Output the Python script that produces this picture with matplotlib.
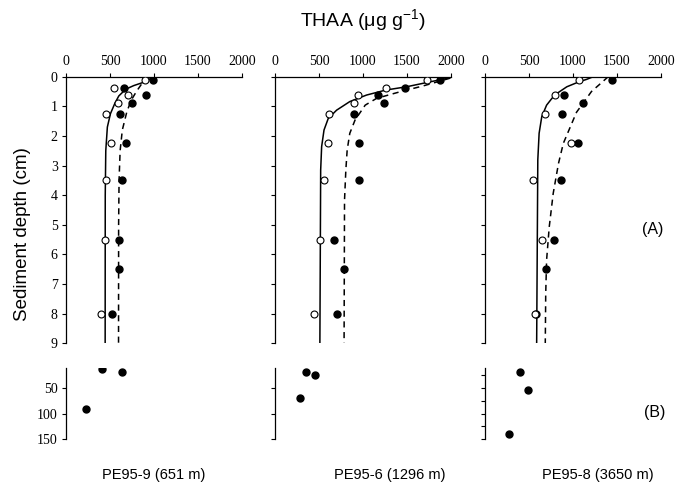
import numpy as np
import matplotlib.pyplot as plt

plt.rcParams['font.family'] = 'Liberation Serif'
plt.rcParams['mathtext.fontset'] = 'custom'
plt.rcParams['mathtext.rm'] = 'Liberation Sans'
plt.rcParams['mathtext.default'] = 'rm'

stations = ['PE95-9 (651 m)', 'PE95-6 (1296 m)', 'PE95-8 (3650 m)']

# (A) open circles
open_depth = [
    [0.125, 0.375, 0.625, 0.875, 1.25, 2.25, 3.5, 5.5, 8.0],
    [0.125, 0.375, 0.625, 0.875, 1.25, 2.25, 3.5, 5.5, 8.0],
    [0.125, 0.625, 1.25, 2.25, 3.5, 5.5, 8.0],
]
open_thaa = [
    [900, 545, 710, 595, 460, 510, 455, 445, 395],
    [1730, 1260, 945, 900, 610, 600, 560, 515, 445],
    [1070, 790, 680, 975, 540, 645, 570],
]

# (A) filled circles
fill_depth = [
    [0.125, 0.375, 0.625, 0.875, 1.25, 2.25, 3.5, 5.5, 6.5, 8.0],
    [0.125, 0.375, 0.625, 0.875, 1.25, 2.25, 3.5, 5.5, 6.5, 8.0],
    [0.125, 0.625, 0.875, 1.25, 2.25, 3.5, 5.5, 6.5, 8.0],
]
fill_thaa = [
    [985, 660, 905, 755, 615, 685, 635, 600, 600, 525],
    [1875, 1480, 1165, 1240, 895, 955, 955, 670, 780, 705],
    [1445, 900, 1115, 880, 1060, 860, 780, 690, 585],
]

# fitted profiles
solid_depth = [
    [0, 0.1, 0.2, 0.3, 0.42, 0.65, 0.9, 1.25, 1.7, 2.5, 4.0, 9.0],
    [0.03, 0.2, 0.34, 0.45, 0.62, 0.84, 1.13, 1.41, 1.8, 2.36, 3.15, 9.0],
    [0, 0.09, 0.17, 0.34, 0.62, 0.96, 1.35, 1.91, 2.81, 9.0],
]
solid_thaa = [
    [990, 940, 870, 770, 680, 600, 555, 505, 470, 452, 446, 445],
    [1995, 1720, 1495, 1260, 1040, 850, 700, 605, 557, 530, 519, 510],
    [1230, 1155, 1070, 930, 790, 700, 645, 615, 600, 587],
]
dash_depth = [
    [0, 0.2, 0.5, 0.8, 1.2, 1.8, 2.5, 3.5, 5.0, 9.0],
    [0.05, 0.31, 0.51, 0.73, 0.96, 1.46, 1.91, 2.48, 3.15, 4.17, 9.0],
    [0, 0.2, 0.5, 1.2, 2.25, 2.93, 3.94, 5.07, 6.19, 7.32, 9.0],
]
dash_thaa = [
    [940, 870, 800, 740, 690, 640, 615, 603, 598, 597],
    [1990, 1685, 1420, 1155, 1025, 910, 850, 820, 805, 790, 785],
    [1400, 1325, 1210, 1040, 890, 835, 775, 730, 700, 690, 685],
]

# (B) deep samples
deep_thaa = [[405, 635, 225], [350, 460, 280], [400, 490, 275]]
deep_depth = [[13, 18, 91], [18, 24, 69], [19, 53, 141]]

W, H = 678, 483
fig = plt.figure(figsize=(W / 100, H / 100), dpi=100)
lefts = [66, 275, 485]
aw = 176

for i, x0 in enumerate(lefts):
    ax = fig.add_axes([x0 / W, 1 - 343.3 / H, aw / W, (343.3 - 76.7) / H])
    ax.plot(solid_thaa[i], solid_depth[i], color='black', lw=1.1, zorder=2)
    ax.plot(dash_thaa[i], dash_depth[i], color='black', lw=1.1,
            linestyle=(0, (4, 3)), zorder=2)
    ax.plot(fill_thaa[i], fill_depth[i], 'o', color='black', ms=5, zorder=3)
    ax.plot(open_thaa[i], open_depth[i], 'o', mfc='white', mec='black',
            mew=0.8, ms=5, zorder=4)
    ax.set_xlim(0, 2000)
    ax.set_ylim(9, 0)
    ax.xaxis.tick_top()
    ax.set_xticks([0, 500, 1000, 1500, 2000])
    ax.set_yticks(range(10))
    if i > 0:
        ax.set_yticklabels([])
    for s in ['right', 'bottom']:
        ax.spines[s].set_visible(False)
    for s in ['left', 'top']:
        ax.spines[s].set_linewidth(0.9)
    ax.tick_params(direction='out', length=3, width=0.8, labelsize=10, pad=3)

    bx = fig.add_axes([x0 / W, 1 - 439 / H, aw / W, (439 - 367.7) / H])
    bx.plot(deep_thaa[i], deep_depth[i], 'o', color='black', ms=5)
    bx.set_xlim(0, 2000)
    bx.set_ylim(150, 10)
    bx.set_xticks([])
    if i == 2:
        bx.set_yticks([25, 50, 75, 100, 125, 150])
    else:
        bx.set_yticks([50, 100, 150])
    if i > 0:
        bx.set_yticklabels([])
    for s in ['right', 'bottom', 'top']:
        bx.spines[s].set_visible(False)
    bx.spines['left'].set_linewidth(0.9)
    bx.tick_params(direction='out', length=3, width=0.8, labelsize=10, pad=3)

label_x = [154, 390, 598]
for i, name in enumerate(stations):
    fig.text(label_x[i] / W, 1 - 475 / H, name, family='Liberation Sans',
             fontsize=10.5, ha='center', va='center')

fig.text(363 / W, 1 - 20 / H, 'THAA (μg g$^{-1}$)', family='Liberation Sans',
         fontsize=14, ha='center', va='center')
fig.text(23 / W, 1 - 234 / H, 'Sediment depth (cm)', family='Liberation Sans',
         fontsize=13.5, rotation=90, ha='center', va='center')
fig.text(653 / W, 1 - 229 / H, '(A)', family='Liberation Sans',
         fontsize=11.5, ha='center', va='center')
fig.text(655 / W, 1 - 413 / H, '(B)', family='Liberation Sans',
         fontsize=11.5, ha='center', va='center')

fig.savefig('out.png', dpi=100)
